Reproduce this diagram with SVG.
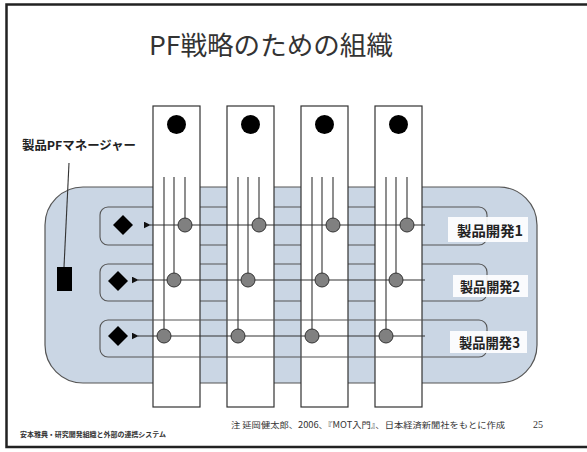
<svg xmlns="http://www.w3.org/2000/svg" width="587" height="452" viewBox="0 0 587 452">
<defs>
<marker id="ah" viewBox="0 0 10 10" refX="1" refY="5" markerWidth="7" markerHeight="7" orient="auto" markerUnits="userSpaceOnUse">
<path d="M0,5 L10,0 L10,10 Z" fill="#111"/>
</marker>
<style>
.frame{stroke:#222;stroke-width:2.5;fill:none}
.col{fill:#fff;stroke:#333;stroke-width:1.2}
.row{fill:none;stroke:#555;stroke-width:1.1}
.ln{stroke:#333;stroke-width:1.1;fill:none}
.dot{fill:#000}
.node{fill:#808080;stroke:#333;stroke-width:1}
.dia{fill:#000}
.lab{fill:#fff;opacity:0.9}
.jp{font-family:"Noto Sans CJK JP","Noto Sans",sans-serif}
.t{font-size:14px;font-weight:bold;fill:#222}
</style>
</defs>
<rect width="587" height="452" fill="#fff"/>
<path class="frame" d="M587,4.5 H6.5 V447 H587"/>
<text class="jp" x="149" y="55" font-size="26" fill="#333" textLength="244" lengthAdjust="spacingAndGlyphs">PF戦略のための組織</text>

<g id="background">
<rect x="45" y="187" width="492" height="196" rx="38" fill="#cad6e4" stroke="#555" stroke-width="1.2"/>
</g>

<g id="rows12">
<rect class="row" x="100" y="207" width="387" height="38" rx="8"/>
<rect class="row" x="100" y="264" width="387" height="37" rx="8"/>
</g>

<g id="col1"><rect class="col" x="153" y="106" width="47" height="301"/><circle class="dot" cx="176.5" cy="124.5" r="9.5"/></g>
<g id="col2"><rect class="col" x="227" y="106" width="47" height="301"/><circle class="dot" cx="250.5" cy="124.5" r="9.5"/></g>
<g id="col3"><rect class="col" x="301" y="106" width="47" height="301"/><circle class="dot" cx="324.5" cy="124.5" r="9.5"/></g>
<g id="col4"><rect class="col" x="375" y="106" width="47" height="301"/><circle class="dot" cx="398.5" cy="124.5" r="9.5"/></g>

<g id="row3"><rect class="row" x="100" y="320" width="387" height="37" rx="8"/></g>

<g id="connectors">
<path class="ln" d="M69,163 L64,267"/>
<path class="ln" d="M164,177 V336 M174,177 V280 M185,177 V225"/>
<path class="ln" d="M238,177 V336 M248,177 V280 M259,177 V225"/>
<path class="ln" d="M312,177 V336 M322,177 V280 M333,177 V225"/>
<path class="ln" d="M386,177 V336 M396,177 V280 M407,177 V225"/>
<path class="ln" d="M425,225 H150" marker-end="url(#ah)"/>
<path class="ln" d="M425,280 H138" marker-end="url(#ah)"/>
<path class="ln" d="M425,336 H138" marker-end="url(#ah)"/>
</g>

<g id="nodes">
<circle class="node" cx="185" cy="225" r="7"/><circle class="node" cx="174" cy="280" r="7"/><circle class="node" cx="164" cy="336" r="7"/>
<circle class="node" cx="259" cy="225" r="7"/><circle class="node" cx="248" cy="280" r="7"/><circle class="node" cx="238" cy="336" r="7"/>
<circle class="node" cx="333" cy="225" r="7"/><circle class="node" cx="322" cy="280" r="7"/><circle class="node" cx="312" cy="336" r="7"/>
<circle class="node" cx="407" cy="225" r="7"/><circle class="node" cx="396" cy="280" r="7"/><circle class="node" cx="386" cy="336" r="7"/>
</g>

<g id="leaders">
<path class="dia" d="M123,215 L133,225 L123,235 L113,225 Z"/>
<path class="dia" d="M118,271 L128,281 L118,291 L108,281 Z"/>
<path class="dia" d="M118,326 L128,336 L118,346 L108,336 Z"/>
</g>

<g id="manager">
<rect x="57" y="267" width="15" height="24" fill="#000"/>
<text class="jp" x="22" y="150" font-size="12" font-weight="bold" fill="#222" textLength="114" lengthAdjust="spacingAndGlyphs">製品PFマネージャー</text>
</g>

<g id="label1"><rect class="lab" x="448" y="217" width="80" height="25"/><text class="jp t" x="457" y="236" textLength="66" lengthAdjust="spacingAndGlyphs">製品開発1</text></g>
<g id="label2"><rect class="lab" x="453" y="275" width="75" height="22"/><text class="jp t" x="460" y="292" font-size="13" textLength="60" lengthAdjust="spacingAndGlyphs">製品開発2</text></g>
<g id="label3"><rect class="lab" x="450" y="331" width="77" height="22"/><text class="jp t" x="459" y="348" font-size="13" textLength="61" lengthAdjust="spacingAndGlyphs">製品開発3</text></g>

<text class="jp" x="231" y="428" font-size="8.5" fill="#333" textLength="274" lengthAdjust="spacingAndGlyphs">注 延岡健太郎、2006、『MOT入門』、日本経済新聞社をもとに作成</text>
<text x="533" y="428" font-family="Liberation Serif,serif" font-size="10" fill="#333">25</text>
<text class="jp" x="20" y="437" font-size="7" font-weight="bold" fill="#333" textLength="146" lengthAdjust="spacingAndGlyphs">安本雅典・研究開発組織と外部の連携システム</text>
</svg>
